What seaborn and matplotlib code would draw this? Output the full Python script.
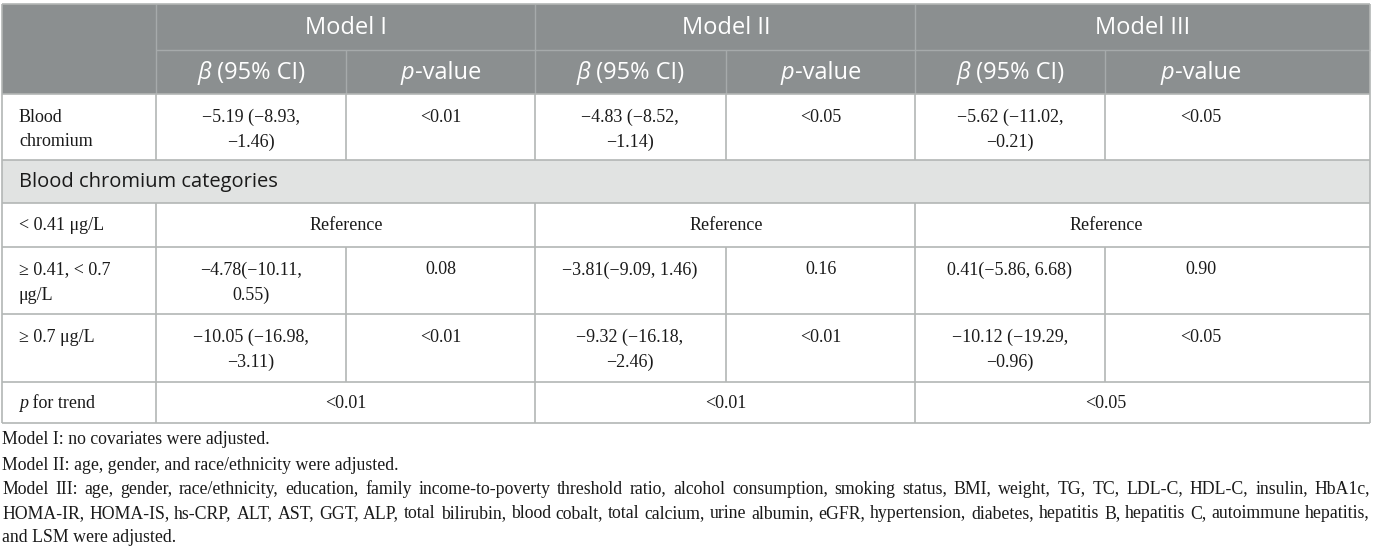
import matplotlib
matplotlib.use("Agg")
import matplotlib.pyplot as plt
import seaborn as sns

# Table content
models = ["Model I", "Model II", "Model III"]
blood_label = "Blood\nchromium"
blood_beta = ["−5.19 (−8.93,\n−1.46)", "−4.83 (−8.52,\n−1.14)", "−5.62 (−11.02,\n−0.21)"]
blood_p = ["<0.01", "<0.05", "<0.05"]
category_title = "Blood chromium categories"
low_label = "< 0.41 μg/L"
mid_label = "≥ 0.41, < 0.7\nμg/L"
high_label = "≥ 0.7 μg/L"
reference_text = ["Reference", "Reference", "Reference"]
mid_beta = ["−4.78(−10.11,\n0.55)", "−3.81(−9.09, 1.46)", "0.41(−5.86, 6.68)"]
mid_p = ["0.08", "0.16", "0.90"]
high_beta = ["−10.05 (−16.98,\n−3.11)", "−9.32 (−16.18,\n−2.46)", "−10.12 (−19.29,\n−0.96)"]
high_p = ["<0.01", "<0.01", "<0.05"]
trend_p = ["<0.01", "<0.01", "<0.05"]
footnotes = [
    "Model I: no covariates were adjusted.",
    "Model II: age, gender, and race/ethnicity were adjusted.",
    "Model III: age, gender, race/ethnicity, education, family income-to-poverty threshold ratio, alcohol consumption, "
    "smoking status, BMI, weight, TG, TC, LDL-C, HDL-C, insulin, HbA1c,",
    "HOMA-IR, HOMA-IS, hs-CRP, ALT, AST, GGT, ALP, total bilirubin, blood cobalt, total calcium, urine albumin, eGFR, "
    "hypertension, diabetes, hepatitis B, hepatitis C, autoimmune hepatitis,",
    "and LSM were adjusted.",
]

sns.set_theme(style="white")

# Layout (pixels)
W, H = 1375, 556
row_edges = [4, 50, 94, 160, 203, 247, 314, 382, 423]
col_edges = [2, 156, 346, 535, 726, 915, 1105, 1370]
beta_x = [251, 630, 1010]
p_x = [441, 821, 1201]
span_x = [346, 726, 1106]
model_x = [346, 726, 1143]

HEAD_BG = "#8b8f90"
CAT_BG = "#e1e3e2"
LINE = "#b3b6b5"
HEAD_LINE = "#a6aaab"
TXT = "#1a1a1a"
SANS = "Open Sans"
SERIF = "Liberation Serif"
BODY_FS = 13
HEAD_FS = 17
FOOT_FS = 12.8

fig = plt.figure(figsize=(W / 100, H / 100), dpi=100)
ax = fig.add_axes([0, 0, 1, 1])
ax.set_xlim(0, W)
ax.set_ylim(H, 0)
ax.axis("off")
renderer = fig.canvas.get_renderer()


def text_width(t):
    return t.get_window_extent(renderer=renderer).width


def runs(x, y, parts, size, family, color, ha="center"):
    # parts: list of (text, italic)
    objs = []
    for s, it in parts:
        objs.append(ax.text(0, y, s, fontsize=size, family=family, color=color,
                            style="italic" if it else "normal", va="center", ha="left"))
    widths = [text_width(o) for o in objs]
    start = x - sum(widths) / 2 if ha == "center" else x
    for o, w in zip(objs, widths):
        o.set_x(start)
        start += w


def cell(x, top, s, ha="center"):
    for i, line in enumerate(s.split("\n")):
        ax.text(x, top + 23 + 25 * i, line, fontsize=BODY_FS, family=SERIF,
                color=TXT, ha=ha, va="center")


# Backgrounds
ax.axhspan(row_edges[0], row_edges[2], xmin=col_edges[0] / W, xmax=col_edges[-1] / W, color=HEAD_BG, lw=0)
ax.axhspan(row_edges[3], row_edges[4], xmin=col_edges[0] / W, xmax=col_edges[-1] / W, color=CAT_BG, lw=0)

# Header lines
ax.hlines(row_edges[1], col_edges[1], col_edges[-1], color=HEAD_LINE, lw=1)
for c in [col_edges[1], col_edges[3], col_edges[5]]:
    ax.vlines(c, row_edges[0], row_edges[2], color=HEAD_LINE, lw=1)
for c in [col_edges[2], col_edges[4], col_edges[6]]:
    ax.vlines(c, row_edges[1], row_edges[2], color=HEAD_LINE, lw=1)

# Body lines
for r in row_edges[2:]:
    ax.hlines(r, col_edges[0], col_edges[-1], color=LINE, lw=1.2)
ax.hlines(row_edges[0], col_edges[0], col_edges[-1], color=LINE, lw=1.2)
ax.vlines([col_edges[0], col_edges[-1]], row_edges[0], row_edges[-1], color=LINE, lw=1.2)
body_rows = [(2, 3), (4, 5), (5, 6), (6, 7), (7, 8)]
split_rows = [(2, 3), (5, 6), (6, 7)]
for a, b in body_rows:
    for c in [col_edges[1], col_edges[3], col_edges[5]]:
        ax.vlines(c, row_edges[a], row_edges[b], color=LINE, lw=1.2)
for a, b in split_rows:
    for c in [col_edges[2], col_edges[4], col_edges[6]]:
        ax.vlines(c, row_edges[a], row_edges[b], color=LINE, lw=1.2)

# Header text
hy1 = (row_edges[0] + row_edges[1]) / 2 + 1
hy2 = (row_edges[1] + row_edges[2]) / 2 + 1
for i, m in enumerate(models):
    runs(model_x[i], hy1, [(m, False)], HEAD_FS, SANS, "white")
    runs(beta_x[i], hy2, [("β", True), (" (95% CI)", False)], HEAD_FS, SANS, "white")
    runs(p_x[i], hy2, [("p", True), ("-value", False)], HEAD_FS, SANS, "white")

# Body text
lx = 19
cell(lx, row_edges[2], blood_label, ha="left")
for i in range(3):
    cell(beta_x[i], row_edges[2], blood_beta[i])
    cell(p_x[i], row_edges[2], blood_p[i])

runs(lx, (row_edges[3] + row_edges[4]) / 2, [(category_title, False)], 14.5, SANS, TXT, ha="left")

cell(lx, row_edges[4] - 1, low_label, ha="left")
for i in range(3):
    cell(span_x[i], row_edges[4] - 1, reference_text[i])

cell(lx, row_edges[5], mid_label, ha="left")
for i in range(3):
    cell(beta_x[i], row_edges[5], mid_beta[i])
    cell(p_x[i], row_edges[5], mid_p[i])

cell(lx, row_edges[6], high_label, ha="left")
for i in range(3):
    cell(beta_x[i], row_edges[6], high_beta[i])
    cell(p_x[i], row_edges[6], high_p[i])

runs(lx, row_edges[7] + 22, [("p", True), (" for trend", False)], BODY_FS, SERIF, TXT, ha="left")
for i in range(3):
    cell(span_x[i], row_edges[7] - 1, trend_p[i])

# Footnotes (lines 3 and 4 justified)
foot_y = [440, 465, 489, 514, 538]
for k, (fy, line) in enumerate(zip(foot_y, footnotes)):
    if k in (2, 3):
        words = line.split(" ")
        objs = [ax.text(0, fy, w, fontsize=FOOT_FS, family=SERIF, color=TXT,
                        va="center", ha="left") for w in words]
        ws = [text_width(o) for o in objs]
        gap = (col_edges[-1] - col_edges[0] - sum(ws)) / (len(words) - 1)
        x = col_edges[0]
        for o, w in zip(objs, ws):
            o.set_x(x)
            x += w + gap
    else:
        ax.text(col_edges[0], fy, line, fontsize=FOOT_FS, family=SERIF, color=TXT,
                va="center", ha="left")

plt.savefig("out.png", dpi=100)
